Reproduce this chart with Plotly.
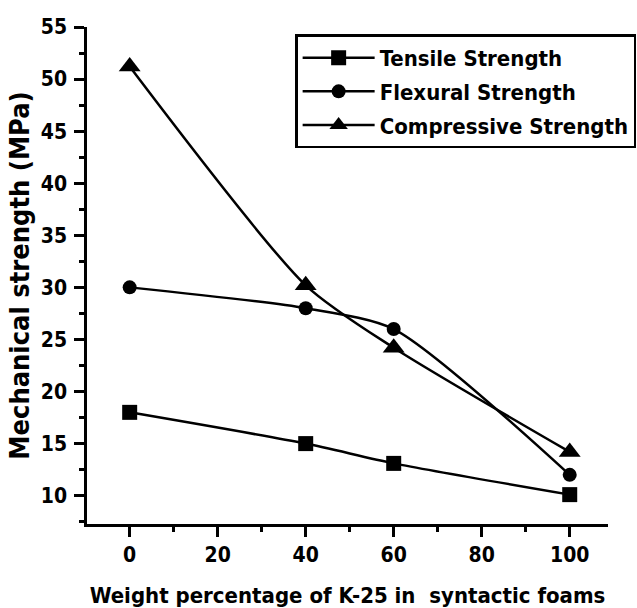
import plotly.graph_objects as go

# Data
x_wt = [0, 40, 60, 100]
tensile = [18.0, 15.0, 13.1, 10.1]
flexural = [30.0, 28.0, 26.0, 12.0]
compressive = [51.2, 30.2, 24.2, 14.2]

series_names = ["Tensile Strength", "Flexural Strength", "Compressive Strength"]
series_values = [tensile, flexural, compressive]
series_symbols = ["square", "circle", "triangle-up"]
series_sizes = [15, 14, 19]

x_ticks = [0, 20, 40, 60, 80, 100]
y_ticks = [10, 15, 20, 25, 30, 35, 40, 45, 50, 55]

FONT = "DejaVu Sans Condensed, Liberation Sans Narrow, Arial Narrow, sans-serif"

fig = go.Figure()
for name, vals, sym, sz in zip(series_names, series_values, series_symbols, series_sizes):
    fig.add_trace(go.Scatter(
        x=x_wt, y=vals, name=name, mode="lines+markers", legendgroup=name,
        line=dict(color="black", width=2.5, shape="spline", smoothing=0.7),
        marker=dict(symbol=sym, size=sz, color="black"),
    ))

axis_common = dict(
    showline=True, linecolor="black", linewidth=2.5, mirror=False,
    ticks="outside", ticklen=10, tickwidth=2.5, tickcolor="black",
    showgrid=False, zeroline=False, automargin=False,
    tickfont=dict(family=FONT, size=21, color="black", weight="bold"),
)

fig.update_xaxes(
    range=[-9.7, 108.7], tickvals=x_ticks,
    minor=dict(dtick=10, tick0=0, ticks="outside", ticklen=5, tickwidth=2.5, tickcolor="black"),
    title=dict(text="Weight percentage of K-25 in\u00a0 syntactic foams",
               font=dict(family=FONT, size=22, color="black", weight="bold"), standoff=26),
    **axis_common,
)
fig.update_yaxes(
    range=[7.28, 55], tickvals=y_ticks, ticklabelstandoff=3,
    minor=dict(dtick=2.5, tick0=0, ticks="outside", ticklen=5, tickwidth=2.5, tickcolor="black"),
    title=dict(text="Mechanical strength (MPa)",
               font=dict(family=FONT, size=27, color="black", weight="bold"), standoff=4),
    **axis_common,
)

fig.update_layout(
    width=637, height=608,
    margin=dict(l=87, r=29, t=27, b=84, autoexpand=False),
    paper_bgcolor="white", plot_bgcolor="white",
    showlegend=True,
    legend=dict(
        x=1.054, xanchor="right", y=0.985, yanchor="top",
        bgcolor="white", bordercolor="black", borderwidth=2.5,
        font=dict(family=FONT, size=22, color="black", weight="bold"),
        itemwidth=72, traceorder="grouped", tracegroupgap=2,
    ),
)

fig.write_html("out.html", config={"displayModeBar": False},
               post_script="document.body.style.margin='0';")
